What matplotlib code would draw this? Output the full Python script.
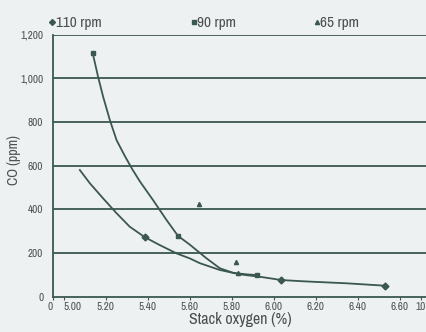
import matplotlib.pyplot as plt
from matplotlib.ticker import FuncFormatter

# measured points (stack O2 %, CO ppm)
o2_110 = [5.386, 6.036, 6.529]
co_110 = [272, 76, 50]
o2_90 = [5.137, 5.544, 5.918]
co_90 = [1117, 278, 99]
o2_65 = [5.644, 5.822, 5.83]
co_65 = [424, 160, 110]

# fitted curves
fit_o2_110 = [5.076, 5.124, 5.187, 5.251, 5.314, 5.386, 5.457, 5.537, 5.60, 5.648,
              5.743, 5.838, 5.933, 6.036, 6.124, 6.187, 6.346, 6.529]
fit_co_110 = [580, 519, 450, 382, 320, 272, 236, 198, 175, 153,
              122, 102, 91, 76, 71, 68, 61, 50]
fit_o2_90 = [5.137, 5.163, 5.187, 5.219, 5.251, 5.290, 5.325, 5.362, 5.425, 5.489,
             5.544, 5.60, 5.68, 5.743, 5.806, 5.87, 5.918]
fit_co_90 = [1117, 1007, 916, 809, 717, 645, 585, 528, 442, 351,
             278, 238, 175, 130, 109, 102, 99]

xtick_pos = [4.948, 5.00, 5.20, 5.40, 5.60, 5.80, 6.00, 6.20, 6.40, 6.60, 6.70]
xtick_lab = ['0', '5.00', '5.20', '5.40', '5.60', '5.80', '6.00', '6.20', '6.40', '6.60', '10']
yticks = [0, 200, 400, 600, 800, 1000, 1200]

line_c = '#3a5750'
text_c = '#4a4f4f'
bg = '#eef1f1'
font = ['Archivo Narrow', 'DejaVu Sans']

fig = plt.figure(figsize=(4.27, 3.32), dpi=100, facecolor=bg)
ax = fig.add_axes([0.124, 0.1066, 0.876, 0.789], facecolor=bg)

for y in yticks[1:]:
    ax.axhline(y, color=line_c, lw=1.3, zorder=1)

ax.plot(fit_o2_110, fit_co_110, color=line_c, lw=1.3, zorder=2)
ax.plot(fit_o2_90, fit_co_90, color=line_c, lw=1.3, zorder=2)
ax.plot(o2_110, co_110, 'D', color=line_c, ms=3.5, zorder=3)
ax.plot(o2_90, co_90, 's', color=line_c, ms=3.5, zorder=3)
ax.plot(o2_65, co_65, '^', color=line_c, ms=3, zorder=3)

ax.set_xlim(4.948, 6.73)
ax.set_ylim(0, 1200)
ax.set_xticks(xtick_pos)
ax.set_xticklabels(xtick_lab)
ax.set_yticks(yticks)
ax.yaxis.set_major_formatter(FuncFormatter(lambda v, _: f'{int(v):,}'))
for lab in ax.get_xticklabels() + ax.get_yticklabels():
    lab.set_family(font)
    lab.set_fontsize(8)
    lab.set_color(text_c)
ax.get_xticklabels()[0].set_horizontalalignment('right')
ax.get_xticklabels()[1].set_horizontalalignment('left')
ax.tick_params(axis='x', length=2, color=line_c, pad=2)
ax.tick_params(axis='y', length=0, pad=7)

for s in ['top', 'right']:
    ax.spines[s].set_visible(False)
for s in ['left', 'bottom']:
    ax.spines[s].set_color(line_c)
    ax.spines[s].set_linewidth(1.3)

ax.set_xlabel('Stack oxygen (%)', family=font, fontsize=11.5, color=text_c, labelpad=0)
ax.set_ylabel('CO (ppm)', family=font, fontsize=10, color=text_c)
ax.yaxis.set_label_coords(-0.085, 0.52)

# legend row along the top
leg_x = [0.13, 0.462, 0.75]
leg_lab = ['110 rpm', '90 rpm', '65 rpm']
leg_mark = ['D', 's', '^']
for lx, lt, lm in zip(leg_x, leg_lab, leg_mark):
    fig.lines.append(plt.Line2D([lx - 0.008], [0.933], marker=lm, ms=3, color=line_c,
                                transform=fig.transFigure))
    fig.text(lx, 0.918, lt, family=font, fontsize=11, color=text_c, va='baseline')

fig.savefig('out.png', dpi=100, facecolor=bg)
